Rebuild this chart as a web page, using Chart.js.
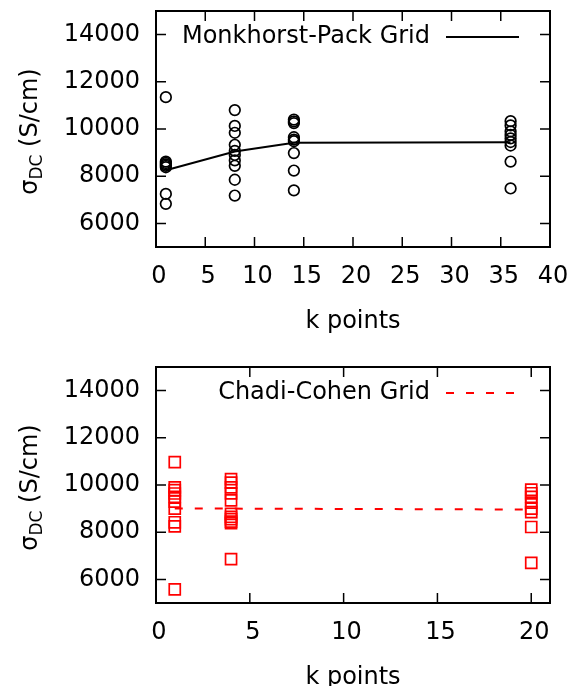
<!DOCTYPE html>
<html><head><meta charset="utf-8">
<script src="https://cdn.jsdelivr.net/npm/chart.js@4"></script>
<style>
html,body{margin:0;padding:0;background:#fff;}
#wrap{position:relative;width:569px;height:686px;overflow:hidden;}
.box{position:absolute;left:0;width:569px;}
canvas{display:block;}
</style></head><body>
<div id="wrap">
<div class="box" style="top:0;height:356px"><canvas id="c1" width="569" height="356"></canvas></div>
<div class="box" style="top:356px;height:330px"><canvas id="c2" width="569" height="330"></canvas></div>
</div>
<script>
// ---- data ----
const yTicks = [6000, 8000, 10000, 12000, 14000];
const mpXTicks = [0, 5, 10, 15, 20, 25, 30, 35, 40];
const ccXTicks = [0, 5, 10, 15, 20];

const mpKPoints = [1, 8, 14, 36];
const mpSigmaK1 = [11350, 8620, 8560, 8500, 8440, 8380, 7250, 6830];
const mpSigmaK8 = [10800, 10130, 9840, 9330, 9070, 8900, 8670, 8440, 7850, 7180];
const mpSigmaK14 = [10400, 10320, 10250, 9650, 9550, 9480, 8980, 8240, 7400];
const mpSigmaK36 = [10330, 10150, 9900, 9750, 9600, 9450, 9300, 8620, 7480];
const mpAverage = [8250, 9050, 9420, 9440];

const ccKPoints = [1, 4, 20];
const ccSigmaK1 = [10970, 9900, 9780, 9640, 9500, 9300, 9000, 8420, 8250, 5580];
const ccSigmaK4 = [10250, 10100, 9900, 9650, 9350, 8780, 8650, 8550, 8450, 8380, 6860];
const ccSigmaK20 = [9800, 9650, 9500, 9250, 9000, 8850, 8220, 6700];
const ccAverage = [9000, 9000, 8960];

const mpLabel = 'Monkhorst-Pack Grid';
const ccLabel = 'Chadi-Cohen Grid';
const xTitle = 'k points';

// ---- drawing ----
const FONT = "'DejaVu Sans', sans-serif";

function scatterPts(ks, groups) {
  const pts = [];
  ks.forEach((k, i) => groups[i].forEach(v => pts.push({x: k, y: v})));
  return pts;
}

const framePlugin = {
  id: 'frame',
  afterDraw(chart, args, o) {
    const {ctx, chartArea: a} = chart;
    const x = chart.scales.x, y = chart.scales.y;
    ctx.save();
    ctx.strokeStyle = '#000';
    ctx.lineWidth = 1.5;
    ctx.setLineDash([]);
    ctx.beginPath();
    o.xTicks.forEach(v => {
      const p = x.getPixelForValue(v);
      if (p <= a.left + 1 || p >= a.right - 1) return;
      ctx.moveTo(p, a.bottom); ctx.lineTo(p, a.bottom - 10);
      ctx.moveTo(p, a.top); ctx.lineTo(p, a.top + 10);
    });
    yTicks.forEach(v => {
      const p = y.getPixelForValue(v);
      ctx.moveTo(a.left, p); ctx.lineTo(a.left + 10, p);
      ctx.moveTo(a.right, p); ctx.lineTo(a.right - 10, p);
    });
    ctx.stroke();
    ctx.lineWidth = 2;
    ctx.strokeRect(a.left, a.top, a.right - a.left, a.bottom - a.top);

    // x title
    ctx.fillStyle = '#000';
    ctx.font = '24px ' + FONT;
    ctx.textAlign = 'center';
    ctx.textBaseline = 'alphabetic';
    ctx.fillText(xTitle, (a.left + a.right) / 2, a.bottom + 81);

    // y title  sigma_DC (S/cm)
    ctx.save();
    ctx.translate(37, (a.top + a.bottom) / 2 + o.titleShift);
    ctx.rotate(-Math.PI / 2);
    const f1 = '24px ' + FONT, f2 = '17px ' + FONT;
    ctx.font = f1;
    const w1 = ctx.measureText('σ').width, w3 = ctx.measureText(' (S/cm)').width;
    ctx.font = f2;
    const w2 = ctx.measureText('DC').width;
    let sx = -(w1 + w2 + w3) / 2;
    ctx.textAlign = 'left';
    ctx.font = f1; ctx.fillText('σ', sx, 0); sx += w1;
    ctx.font = f2; ctx.fillText('DC', sx, 5); sx += w2;
    ctx.font = f1; ctx.fillText(' (S/cm)', sx, 0);
    ctx.restore();

    // key
    const ds = chart.data.datasets[0];
    const ly = y.getPixelForValue(14000) + 2.5;
    ctx.font = '24px ' + FONT;
    ctx.textAlign = 'right';
    ctx.textBaseline = 'middle';
    ctx.fillText(ds.label, 430, ly);
    ctx.beginPath();
    ctx.setLineDash(ds.borderDash || []);
    ctx.strokeStyle = ds.borderColor;
    ctx.lineWidth = 2;
    ctx.moveTo(446, ly); ctx.lineTo(519, ly);
    ctx.stroke();
    ctx.restore();
  }
};

function makeChart(id, c) {
  return new Chart(document.getElementById(id), {
    type: 'scatter',
    data: {
      datasets: [
        {
          label: c.label,
          data: c.avgK.map((k, i) => ({x: k, y: c.avgVals[i]})),
          showLine: true, borderColor: c.color, borderWidth: 2, borderDash: c.dash,
          pointRadius: 0, fill: false, order: 1
        },
        {
          label: 'points',
          data: c.points,
          showLine: false, pointStyle: c.pointStyle, pointRadius: c.pointRadius,
          borderColor: c.color, backgroundColor: 'rgba(0,0,0,0)', borderWidth: 1.7, order: 2
        }
      ]
    },
    options: {
      responsive: false, animation: false, devicePixelRatio: 1,
      layout: {padding: {top: 11, right: 19, left: 0, bottom: 0}},
      plugins: {legend: {display: false}, tooltip: {enabled: false},
        frame: {xTicks: c.xTicks, titleShift: c.titleShift}},
      scales: {
        x: {
          type: 'linear', min: 0, max: c.xMax,
          afterBuildTicks: s => { s.ticks = c.xTicks.map(v => ({value: v})); },
          grid: {display: false, drawTicks: false}, border: {display: false},
          ticks: {font: {family: FONT, size: 24}, color: '#000', padding: 15, labelOffset: 3,
                  maxRotation: 0, autoSkip: false, callback: v => String(v)},
          afterFit: s => { s.height = c.xAxisHeight; s.paddingLeft = 0; s.paddingRight = 0; }
        },
        y: {
          type: 'linear', min: 5000, max: 15000,
          afterBuildTicks: s => { s.ticks = yTicks.map(v => ({value: v})); },
          grid: {display: false, drawTicks: false}, border: {display: false},
          ticks: {font: {family: FONT, size: 24}, color: '#000', padding: 16, callback: v => String(v)},
          afterFit: s => { s.width = 156; s.paddingTop = 0; s.paddingBottom = 0; }
        }
      }
    },
    plugins: [framePlugin]
  });
}

makeChart('c1', {
  label: mpLabel, xMax: 40, xTicks: mpXTicks,
  points: scatterPts(mpKPoints, [mpSigmaK1, mpSigmaK8, mpSigmaK14, mpSigmaK36]),
  avgK: mpKPoints, avgVals: mpAverage, color: '#000', dash: [],
  pointStyle: 'circle', pointRadius: 5.3, xAxisHeight: 109, titleShift: 2.5
});
makeChart('c2', {
  label: ccLabel, xMax: 21, xTicks: ccXTicks,
  points: scatterPts(ccKPoints, [ccSigmaK1, ccSigmaK4, ccSigmaK20]),
  avgK: ccKPoints, avgVals: ccAverage, color: '#ff0000', dash: [8, 12],
  pointStyle: 'rect', pointRadius: 7.8, xAxisHeight: 83, titleShift: 2.5
});
</script>
</body></html>
